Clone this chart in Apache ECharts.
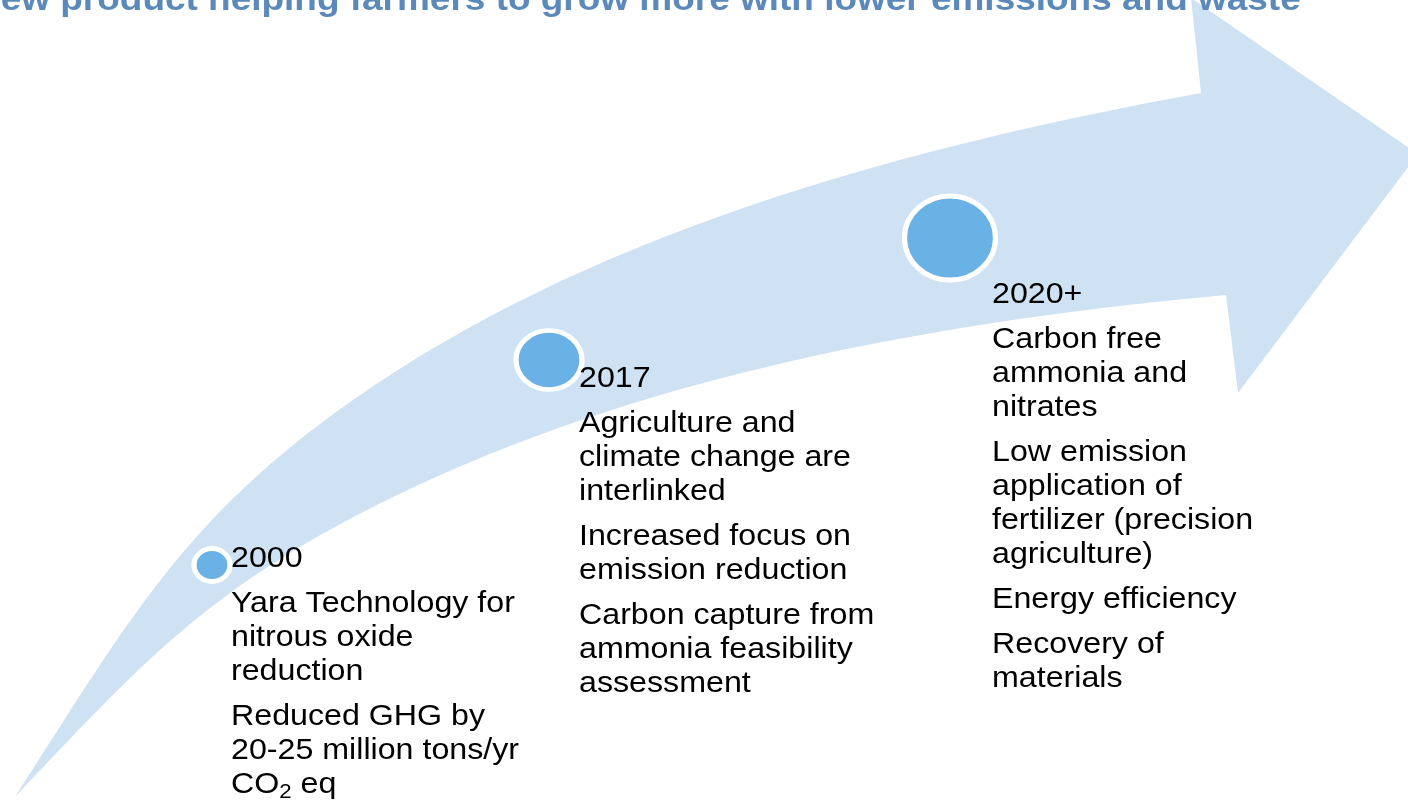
<!DOCTYPE html>
<html>
<head>
<meta charset="utf-8">
<title>Emission reduction timeline</title>
<script src="https://cdn.jsdelivr.net/npm/echarts@6/dist/echarts.min.js"></script>
<style>
  html, body { margin: 0; padding: 0; background: #fff; }
  #chart { width: 1408px; height: 802px; }
</style>
</head>
<body>
<div id="chart"></div>
<script>
const titleText = 'New product helping farmers to grow more with lower emissions and waste'

const years = ['2000', '2017', '2020+']
const notes = [
  [
    ['Yara Technology for', 'nitrous oxide', 'reduction'],
    ['Reduced GHG by', '20-25 million tons/yr', 'CO{sub|2} eq']
  ],
  [
    ['Agriculture and', 'climate change are', 'interlinked'],
    ['Increased focus on', 'emission reduction'],
    ['Carbon capture from', 'ammonia feasibility', 'assessment']
  ],
  [
    ['Carbon free', 'ammonia and', 'nitrates'],
    ['Low emission', 'application of', 'fertilizer (precision', 'agriculture)'],
    ['Energy efficiency'],
    ['Recovery of', 'materials']
  ]
]

// milestone dots on the arrow (slide coordinates)
const dotX = [212, 549, 950]
const dotY = [565, 360, 238]

// top-left of each text block
const noteX = [231, 579, 992]
const noteY = [542, 362, 278]

// arrow outline: two cubic bezier pieces per edge (end, ctrl, ctrl, end, ...)
const upperX = [15, 128, 183, 353, 582, 886, 1201]
const upperY = [797, 622, 519, 400, 239, 150, 93]
const headX = [1191, 1418, 1238, 1226]
const headY = [-2, 154, 393, 295]
const lowerX = [1226, 897, 608, 367, 205, 140, 15]
const lowerY = [295, 325, 387, 510, 593, 665, 797]

const fontFamily = '"Liberation Sans", Arial, sans-serif'
const stretch = 1.11

function bezierPath(xs, ys, api) {
  let d = ''
  for (let i = 1; i < xs.length; i += 3) {
    const pts = [0, 1, 2].map(k => api.coord([xs[i + k], ys[i + k]]).join(' '))
    d += ' C' + pts.join(' ')
  }
  return d
}

function renderArrow(params, api) {
  let d = 'M' + api.coord([upperX[0], upperY[0]]).join(' ') + bezierPath(upperX, upperY, api)
  headX.forEach((x, i) => { d += ' L' + api.coord([x, headY[i]]).join(' ') })
  d += bezierPath(lowerX, lowerY, api) + ' Z'
  return {
    type: 'path',
    shape: { pathData: d },
    style: { fill: '#cfe2f3' }
  }
}

function noteText(i) {
  const lines = ['{year|' + years[i] + '}', '{gap| }']
  notes[i].forEach((para, k) => {
    if (k > 0) lines.push('{gap| }')
    para.forEach(l => lines.push(l))
  })
  return lines.join('\n')
}

function renderNote(params, api) {
  const p = api.coord([api.value(0), api.value(1)])
  return {
    type: 'text',
    x: p[0],
    y: p[1],
    scaleX: stretch,
    style: {
      text: noteText(params.dataIndex),
      fill: '#000',
      fontSize: 29,
      fontFamily: fontFamily,
      lineHeight: 34,
      align: 'left',
      verticalAlign: 'top',
      rich: {
        year: { fontSize: 29, fontFamily: fontFamily, lineHeight: 34, fill: '#000' },
        gap: { fontSize: 8, lineHeight: 11 },
        sub: { fontSize: 20, fontFamily: fontFamily, lineHeight: 14, verticalAlign: 'bottom', fill: '#000' }
      }
    }
  }
}

const chart = echarts.init(document.getElementById('chart'))
chart.setOption({
  animation: false,
  grid: { left: 0, right: 0, top: 0, bottom: 0 },
  xAxis: { type: 'value', min: 0, max: 1408, show: false },
  yAxis: { type: 'value', min: 0, max: 802, inverse: true, show: false },
  series: [
    {
      type: 'custom',
      z: 1,
      silent: true,
      data: [[0, 0]],
      renderItem: renderArrow
    },
    {
      type: 'scatter',
      z: 2,
      silent: true,
      symbol: 'circle',
      itemStyle: { color: '#6ab2e5', borderColor: '#fff', borderWidth: 5, opacity: 1 },
      data: [
        { value: [dotX[0], dotY[0]], symbolSize: [36, 33] },
        { value: [dotX[1], dotY[1]], symbolSize: [66, 59] },
        { value: [dotX[2], dotY[2]], symbolSize: [91, 84] }
      ]
    },
    {
      type: 'custom',
      z: 3,
      silent: true,
      data: noteX.map((x, i) => [x, noteY[i]]),
      renderItem: renderNote
    },
    {
      type: 'custom',
      z: 4,
      silent: true,
      data: [[-26, 0.5]],
      renderItem: function (params, api) {
        const p = api.coord([api.value(0), api.value(1)])
        return {
          type: 'text',
          x: p[0],
          y: p[1],
          scaleX: 1.12,
          style: {
            text: titleText,
            fill: '#5b89ba',
            fontSize: 33,
            fontWeight: 'bold',
            fontFamily: fontFamily,
            align: 'left',
            verticalAlign: 'middle'
          }
        }
      }
    }
  ]
})
</script>
</body>
</html>
